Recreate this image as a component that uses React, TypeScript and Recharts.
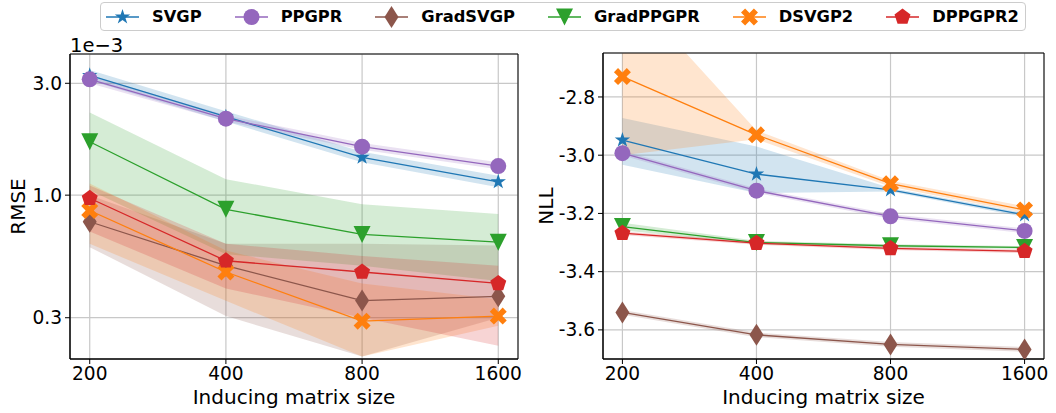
import React from "react";
import {
  Area,
  CartesianGrid,
  ComposedChart,
  Line,
  ReferenceArea,
  XAxis,
  YAxis,
} from "recharts";

// x: inducing matrix size (log2 axis in the original)
const SIZES = [200, 400, 800, 1600];

// RMSE, in units of 1e-3
const rmseSVGP = { mean: [3.24, 2.16, 1.45, 1.14], lo: [3.08, 2.06, 1.38, 1.08], hi: [3.42, 2.28, 1.53, 1.21] };
const rmsePPGPR = { mean: [3.12, 2.12, 1.61, 1.33], lo: [3.0, 2.06, 1.56, 1.29], hi: [3.24, 2.19, 1.67, 1.38] };
const rmseGradSVGP = { mean: [0.77, 0.5, 0.355, 0.37], lo: [0.6, 0.305, 0.205, 0.3], hi: [1.0, 0.62, 0.62, 0.61] };
const rmseGradPPGPR = { mean: [1.69, 0.87, 0.68, 0.63], lo: [1.05, 0.56, 0.5, 0.43], hi: [2.25, 1.17, 0.915, 0.83] };
const rmseDSVGP2 = { mean: [0.86, 0.47, 0.29, 0.305], lo: [0.62, 0.354, 0.205, 0.277], hi: [1.12, 0.58, 0.42, 0.36] };
const rmseDPPGPR2 = { mean: [0.97, 0.525, 0.47, 0.42], lo: [0.7, 0.4, 0.3, 0.228], hi: [1.1, 0.62, 0.55, 0.5] };

// NLL
const nllSVGP = { mean: [-2.948, -3.065, -3.119, -3.205], lo: [-3.033, -3.13, -3.125, -3.212], hi: [-2.872, -2.97, -3.113, -3.198] };
const nllPPGPR = { mean: [-2.993, -3.122, -3.21, -3.26], lo: [-3.001, -3.13, -3.218, -3.268], hi: [-2.985, -3.114, -3.202, -3.252] };
const nllGradSVGP = { mean: [-3.54, -3.617, -3.65, -3.667], lo: [-3.548, -3.625, -3.658, -3.675], hi: [-3.532, -3.609, -3.642, -3.659] };
const nllGradPPGPR = { mean: [-3.245, -3.3, -3.311, -3.317], lo: [-3.258, -3.306, -3.316, -3.322], hi: [-3.232, -3.294, -3.306, -3.312] };
const nllDSVGP2 = { mean: [-2.73, -2.93, -3.098, -3.188], lo: [-3.0, -2.945, -3.108, -3.198], hi: [-2.41, -2.915, -3.088, -3.175] };
const nllDPPGPR2 = { mean: [-3.268, -3.302, -3.32, -3.33], lo: [-3.274, -3.308, -3.326, -3.336], hi: [-3.262, -3.296, -3.314, -3.324] };

const RMSE_TICKS = [0.3, 1.0, 3.0];
const NLL_TICKS = [-3.6, -3.4, -3.2, -3.0, -2.8];

type Shape = "star" | "circle" | "diamond" | "triangleDown" | "xFilled" | "pentagon";
type Stats = { mean: number[]; lo: number[]; hi: number[] };

const SERIES: { key: string; color: string; shape: Shape }[] = [
  { key: "SVGP", color: "#1f77b4", shape: "star" },
  { key: "PPGPR", color: "#9467bd", shape: "circle" },
  { key: "GradSVGP", color: "#8c564b", shape: "diamond" },
  { key: "GradPPGPR", color: "#2ca02c", shape: "triangleDown" },
  { key: "DSVGP2", color: "#ff7f0e", shape: "xFilled" },
  { key: "DPPGPR2", color: "#d62728", shape: "pentagon" },
];

const X_DOMAIN = [180.9, 1769];
const FONT = "'DejaVu Sans', sans-serif";
const TICK_FONT = 18.6;
const LABEL_FONT = 20;

function buildRows(stats: Record<string, Stats>) {
  return SIZES.map((size, i) => {
    const row: Record<string, any> = { size };
    for (const s of SERIES) {
      row[s.key] = stats[s.key].mean[i];
      row[s.key + "Band"] = [stats[s.key].lo[i], stats[s.key].hi[i]];
    }
    return row;
  });
}

const rmseRows = buildRows({
  SVGP: rmseSVGP,
  PPGPR: rmsePPGPR,
  GradSVGP: rmseGradSVGP,
  GradPPGPR: rmseGradPPGPR,
  DSVGP2: rmseDSVGP2,
  DPPGPR2: rmseDPPGPR2,
});

const nllRows = buildRows({
  SVGP: nllSVGP,
  PPGPR: nllPPGPR,
  GradSVGP: nllGradSVGP,
  GradPPGPR: nllGradPPGPR,
  DSVGP2: nllDSVGP2,
  DPPGPR2: nllDPPGPR2,
});

function polar(n: number, radius: (k: number) => number, x: number, y: number) {
  const pts: string[] = [];
  for (let k = 0; k < n; k++) {
    const a = -Math.PI / 2 + (k * 2 * Math.PI) / n;
    pts.push(`${x + radius(k) * Math.cos(a)},${y + radius(k) * Math.sin(a)}`);
  }
  return pts.join(" ");
}

function Marker({ shape, x, y, color }: { shape: Shape; x: number; y: number; color: string }) {
  switch (shape) {
    case "star":
      return <polygon points={polar(10, (k) => (k % 2 ? 3.1 : 8.1), x, y)} fill={color} />;
    case "circle":
      return <circle cx={x} cy={y} r={8} fill={color} />;
    case "diamond":
      return <polygon points={`${x},${y - 11} ${x + 7},${y} ${x},${y + 11} ${x - 7},${y}`} fill={color} />;
    case "triangleDown":
      return <polygon points={`${x - 8.5},${y - 8.5} ${x + 8.5},${y - 8.5} ${x},${y + 8.5}`} fill={color} />;
    case "pentagon":
      return <polygon points={polar(5, () => 8.4, x, y)} fill={color} />;
    case "xFilled": {
      const t = 2.9;
      const L = 9.1;
      const plus = [
        [t, L], [t, t], [L, t], [L, -t], [t, -t], [t, -L],
        [-t, -L], [-t, -t], [-L, -t], [-L, t], [-t, t], [-t, L],
      ];
      const pts = plus
        .map(([a, b]) => `${x + (a - b) / Math.SQRT2},${y + (a + b) / Math.SQRT2}`)
        .join(" ");
      return <polygon points={pts} fill={color} />;
    }
  }
}

const makeDot = (shape: Shape, color: string) => (p: any) => {
  if (p.cx == null || p.cy == null) return <g key={`${shape}-${p.index}`} />;
  return (
    <g key={`${shape}-${p.index}`}>
      <Marker shape={shape} x={p.cx} y={p.cy} color={color} />
    </g>
  );
};

function LegendBox() {
  return (
    <div
      style={{
        position: "absolute",
        left: 100,
        top: 2,
        height: 27,
        border: "1px solid #cccccc",
        borderRadius: 4,
        background: "#fff",
        display: "flex",
        alignItems: "center",
        paddingLeft: 5,
        paddingRight: 6,
        gap: 33,
        fontFamily: FONT,
        fontWeight: "bold",
        fontSize: 16.3,
        zIndex: 5,
      }}
    >
      {SERIES.map((s) => (
        <div key={s.key} style={{ display: "flex", alignItems: "center" }}>
          <svg width={33} height={24}>
            <line x1={0} y1={12} x2={33} y2={12} stroke={s.color} strokeWidth={1.3} />
            <Marker shape={s.shape} x={16.5} y={12} color={s.color} />
          </svg>
          <span style={{ marginLeft: 13, color: "#000" }}>{s.key}</span>
        </div>
      ))}
    </div>
  );
}

interface PanelProps {
  data: Record<string, any>[];
  width: number;
  top: number;
  yWidth: number;
  yDomain: number[];
  yTicks: number[];
  yScale: "log" | "linear";
  yLabel: (props: any) => React.ReactElement;
}

function Panel({ data, width, top, yWidth, yDomain, yTicks, yScale, yLabel }: PanelProps) {
  return (
    <ComposedChart
      width={width}
      height={413}
      data={data}
      margin={{ top, right: 12, bottom: 0, left: 0 }}
    >
      {SERIES.map((s) => (
        <Area
          key={s.key + "Band"}
          type="linear"
          dataKey={s.key + "Band"}
          stroke="none"
          fill={s.color}
          fillOpacity={0.2}
          activeDot={false}
          isAnimationActive={false}
        />
      ))}
      <CartesianGrid stroke="#c8c8c8" strokeWidth={1.2} />
      <XAxis
        dataKey="size"
        type="number"
        scale="log"
        domain={X_DOMAIN}
        ticks={SIZES}
        allowDataOverflow
        height={54}
        tickSize={5}
        tickMargin={3}
        tick={{ fill: "#000", fontSize: TICK_FONT }}
        tickLine={{ stroke: "#000" }}
        axisLine={{ stroke: "#000" }}
        label={{ value: "Inducing matrix size", position: "insideBottom", offset: 9, fill: "#000", fontSize: LABEL_FONT }}
      />
      <YAxis
        type="number"
        scale={yScale}
        domain={yDomain}
        ticks={yTicks}
        allowDataOverflow
        width={yWidth}
        tickSize={5}
        tickMargin={3}
        tick={{ fill: "#000", fontSize: TICK_FONT }}
        tickLine={{ stroke: "#000" }}
        axisLine={{ stroke: "#000" }}
        tickFormatter={(v: number) => v.toFixed(1)}
        label={yLabel}
      />
      {SERIES.map((s) => (
        <Line
          key={s.key}
          type="linear"
          dataKey={s.key}
          stroke={s.color}
          strokeWidth={1.3}
          dot={makeDot(s.shape, s.color)}
          activeDot={false}
          isAnimationActive={false}
        />
      ))}
      <ReferenceArea
        x1={X_DOMAIN[0]}
        x2={X_DOMAIN[1]}
        y1={yDomain[0]}
        y2={yDomain[1]}
        fill="none"
        stroke="#000"
        strokeWidth={1}
        ifOverflow="visible"
      />
    </ComposedChart>
  );
}

const rmseLabel = (props: any) => {
  const vb = props.viewBox || { x: 0, y: 54, width: 70, height: 305 };
  const midY = vb.y + vb.height / 2;
  return (
    <g>
      <text x={25} y={midY} transform={`rotate(-90 25 ${midY})`} textAnchor="middle" fontSize={LABEL_FONT} fill="#000">
        RMSE
      </text>
      <text x={vb.x + vb.width} y={vb.y - 2} fontSize={19.5} fill="#000">
        1e−3
      </text>
    </g>
  );
};

const nllLabel = (props: any) => {
  const vb = props.viewBox || { x: 0, y: 53, width: 73, height: 306 };
  const midY = vb.y + vb.height / 2;
  return (
    <text x={23} y={midY} transform={`rotate(-90 23 ${midY})`} textAnchor="middle" fontSize={LABEL_FONT} fill="#000">
      NLL
    </text>
  );
};

export default function App() {
  return (
    <div
      style={{
        position: "absolute",
        left: 0,
        top: 0,
        width: 1056,
        height: 413,
        background: "#fff",
        fontFamily: FONT,
      }}
    >
      <div style={{ position: "absolute", left: 0, top: 0 }}>
        <Panel
          data={rmseRows}
          width={530}
          top={54}
          yWidth={70}
          yDomain={[0.2, 4.0]}
          yTicks={RMSE_TICKS}
          yScale="log"
          yLabel={rmseLabel}
        />
      </div>
      <div style={{ position: "absolute", left: 530, top: 0 }}>
        <Panel
          data={nllRows}
          width={526}
          top={53}
          yWidth={73}
          yDomain={[-3.7, -2.649]}
          yTicks={NLL_TICKS}
          yScale="linear"
          yLabel={nllLabel}
        />
      </div>
      <LegendBox />
    </div>
  );
}
